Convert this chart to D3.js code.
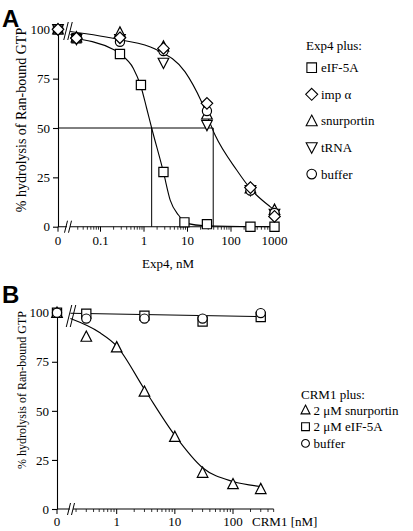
<!DOCTYPE html>
<html><head><meta charset="utf-8">
<script src="https://cdn.jsdelivr.net/npm/d3@7"></script>
<style>
body{margin:0;background:#fff}
svg{display:block}
text{font-family:"Liberation Serif","Times New Roman",serif;fill:#000}
</style>
</head><body>
<svg id="chart" width="413" height="531"></svg>
<script>
// ---------------- DATA ----------------
// Panel A : Exp4 titration (nM)
const yTickValues = [0, 25, 50, 75, 100];
const xTickValuesA = [0, 0.1, 1, 10, 100, 1000];
const xTickLabelsA = ["0", "0.1", "1", "10", "100", "1000"];
const concA_eif = [0, 0.028, 0.28, 0.85, 2.8, 8.5, 28, 280, 1000];
const eif5aA    = [100, 95.5, 87.5, 71.8, 27.7, 2.2, 1.3, 0, 0];
const concA     = [0, 0.028, 0.28, 2.8, 28, 280, 1000];
const trnaA     = [100, 95, 95, 83, 51.5, 18.5, 6.5];
const snurpA    = [100, 96, 98.4, 91.3, 56.9, 19.5, 8.6];
const bufferA   = [100, 95.5, 93.7, 89, 58.6, 18.3, 7];
const impA      = [100, 95.5, 95.7, 90.3, 62.5, 19.8, 5.2];
const fitUpperXA = [0.02, 0.3, 1.8, 8.8, 21, 43, 135, 273, 790, 1000];
const fitUpperYA = [98.9, 94.6, 90, 78.4, 63.3, 46.4, 28.7, 19.5, 10.2, 8.5];
const fitLowerXA = [0.02, 0.21, 0.28, 0.57, 0.84, 1.15, 1.5, 2.8, 4, 6.2, 9.6, 26, 1000];
const fitLowerYA = [95.7, 89.5, 87.5, 80.2, 71.4, 60, 50, 27.6, 13.5, 5.9, 1.7, 0.5, 0];
const ic50A = [1.5, 39];
const legendA = ["eIF-5A", "imp \u03b1", "snurportin", "tRNA", "buffer"];

// Panel B : CRM1 titration (nM)
const xTickValuesB = [0, 1, 10, 100];
const xTickLabelsB = ["0", "1", "10", "100"];
const concB_snurp = [0, 0.3, 1, 3, 10, 30, 100, 300];
const snurpB      = [100, 87.8, 82.4, 59.8, 36.8, 18.5, 12.7, 10.2];
const concB       = [0, 0.3, 3, 30, 300];
const eifB        = [100, 99.5, 98.5, 95.5, 97.8];
const bufferB     = [100, 97, 97, 97, 99.8];
const fitSnurpXB = [0.16, 0.5, 1, 3, 10, 30, 100, 300];
const fitSnurpYB = [97, 90, 83, 61, 37.5, 21, 14, 11.5];
const fitFlatXB  = [0.16, 300];
const fitFlatYB  = [99.7, 98];
const legendB = ["2 \u03bcM snurportin", "2 \u03bcM eIF-5A", "buffer"];

// ---------------- DRAWING ----------------
const svg = d3.select("#chart");

const shapes = {
  square: r => `M${-r},${-r}H${r}V${r}H${-r}Z`,
  diamond: r => { const d = r * 1.25; return `M0,${-d}L${d},0L0,${d}L${-d},0Z`; },
  up: r => { const w = r * 1.15, h = r * 1.0; return `M0,${-h - 1}L${w},${h}L${-w},${h}Z`; },
  down: r => { const w = r * 1.15, h = r * 1.0; return `M0,${h + 1}L${w},${-h}L${-w},${-h}Z`; },
  circle: r => `M${r},0A${r},${r},0,1,1,${-r},0A${r},${r},0,1,1,${r},0Z`
};

function drawPanel(cfg) {
  const g = svg.append("g");
  const y = d3.scaleLinear().domain([0, 100]).range([cfg.y0, cfg.y100]);
  const xl = d3.scaleLog().domain(cfg.logDomain).range(cfg.logRange);
  const xp = v => v === 0 ? cfg.axisX : xl(v);

  // y axis
  const ya = d3.axisLeft(y).tickValues(yTickValues).tickSize(5).tickSizeOuter(0).tickPadding(3);
  const yg = g.append("g").attr("transform", `translate(${cfg.axisX},0)`).call(ya);
  yg.selectAll("text").style("font-size", "13px").style("font-family", '"Liberation Serif",serif');
  yg.selectAll("path,line").attr("stroke", "#000").attr("stroke-width", 1.1);

  // x axis: line from zero to end
  g.append("line").attr("x1", cfg.axisX).attr("x2", xl(cfg.axisEnd))
    .attr("y1", cfg.y0).attr("y2", cfg.y0).attr("stroke", "#000").attr("stroke-width", 1.1);
  // major ticks
  g.selectAll(".maj").data(cfg.majorTicks).join("line")
    .attr("x1", d => xp(d)).attr("x2", d => xp(d))
    .attr("y1", cfg.y0).attr("y2", cfg.y0 + 5).attr("stroke", "#000").attr("stroke-width", 1);
  // minor ticks
  const minors = [];
  for (let e = Math.floor(Math.log10(cfg.minorStart)); e <= Math.ceil(Math.log10(cfg.axisEnd)); e++) {
    for (let m = 1; m <= 9; m++) {
      const v = m * Math.pow(10, e);
      if (v >= cfg.minorStart * 0.999 && v <= cfg.axisEnd * 1.001 && m !== 1) minors.push(v);
    }
  }
  g.selectAll(".min").data(minors).join("line")
    .attr("x1", d => xl(d)).attr("x2", d => xl(d))
    .attr("y1", cfg.y0).attr("y2", cfg.y0 + 3).attr("stroke", "#000").attr("stroke-width", 0.8);
  // tick labels
  g.selectAll(".tl").data(cfg.majorTicks).join("text")
    .attr("x", d => xp(d)).attr("y", cfg.y0 + cfg.labelDy)
    .attr("text-anchor", "middle").style("font-size", "13px")
    .text((d, i) => cfg.majorLabels[i]);

  // break marks (axis and data)
  const bx = cfg.axisX + cfg.breakOff;
  g.append("rect").attr("x", bx - 1).attr("y", cfg.y0 - 2).attr("width", 3).attr("height", 4).attr("fill", "#fff");
  [[cfg.y0 + 6, cfg.y0 - 6], cfg.topBreak].forEach(([yb, yt]) => {
    [-2, 2].forEach(o => {
      const dx = (yb - yt) * 0.25;
      g.append("line").attr("x1", bx + o - dx / 2).attr("x2", bx + o + dx / 2)
        .attr("y1", yb).attr("y2", yt).attr("stroke", "#000").attr("stroke-width", 1);
    });
  });

  // reference (IC50) lines
  if (cfg.ic50) {
    g.append("line").attr("x1", cfg.axisX).attr("x2", xl(d3.max(cfg.ic50)))
      .attr("y1", y(50)).attr("y2", y(50)).attr("stroke", "#000").attr("stroke-width", 1);
    g.selectAll(".ic").data(cfg.ic50).join("line")
      .attr("x1", d => xl(d)).attr("x2", d => xl(d))
      .attr("y1", y(50)).attr("y2", cfg.y0).attr("stroke", "#000").attr("stroke-width", 1);
  }

  // fitted curves
  const line = d3.line().x(d => xl(d[0])).y(d => y(d[1])).curve(d3.curveMonotoneX);
  cfg.curves.forEach(c => {
    g.append("path").datum(d3.zip(c[0], c[1])).attr("d", line)
      .attr("fill", "none").attr("stroke", "#000").attr("stroke-width", 1.1);
  });

  // points
  cfg.series.forEach(s => {
    g.selectAll(null).data(d3.zip(s.x, s.y)).join("path")
      .attr("transform", d => `translate(${xp(d[0])},${y(d[1])})`)
      .attr("d", shapes[s.shape](4.6))
      .attr("fill", "#fff").attr("stroke", "#000").attr("stroke-width", 1.2);
  });

  // axis title
  g.append("text").attr("transform", `translate(${cfg.yTitleX},${cfg.yTitleY}) rotate(-90)`)
    .attr("text-anchor", "middle").style("font-size", cfg.yTitleSize + "px")
    .text("% hydrolysis of Ran-bound GTP");

  // panel letter
  g.append("text").attr("x", 2).attr("y", cfg.letterY)
    .style("font-family", '"Liberation Sans",Arial,sans-serif').style("font-weight", "bold")
    .style("font-size", "24px").text(cfg.letter);

  // legend
  const lg = g.append("g");
  lg.append("text").attr("x", cfg.legX).attr("y", cfg.legY).style("font-size", "13px").text(cfg.legTitle);
  cfg.legItems.forEach((it, i) => {
    const cy = cfg.legY + cfg.legFirst + i * cfg.legStep;
    lg.append("path").attr("transform", `translate(${cfg.legSymX},${cy})`)
      .attr("d", shapes[it.shape](cfg.legSymR)).attr("fill", "#fff").attr("stroke", "#000").attr("stroke-width", 1.1);
    lg.append("text").attr("x", cfg.legTextX).attr("y", cy + 4.5).style("font-size", "13px").text(it.label);
  });
  return {g, xl, y};
}

// Panel A
const A = drawPanel({
  letter: "A", letterY: 27,
  axisX: 58, y0: 226.7, y100: 29.3,
  logDomain: [0.1, 1000], logRange: [100.5, 274.5],
  axisEnd: 1000, minorStart: 0.03,
  majorTicks: xTickValuesA, majorLabels: xTickLabelsA, labelDy: 18,
  breakOff: 10, topBreak: [40, 22],
  ic50: ic50A,
  curves: [[fitUpperXA, fitUpperYA], [fitLowerXA, fitLowerYA]],
  series: [
    {x: concA_eif, y: eif5aA, shape: "square"},
    {x: concA, y: trnaA, shape: "down"},
    {x: concA, y: snurpA, shape: "up"},
    {x: concA, y: bufferA, shape: "circle"},
    {x: concA, y: impA, shape: "diamond"}
  ],
  yTitleX: 26, yTitleY: 120, yTitleSize: 14,
  legX: 306, legY: 50, legFirst: 17.7, legStep: 26.6, legSymX: 311.7, legSymR: 4.8, legTextX: 321,
  legTitle: "Exp4 plus:",
  legItems: [
    {shape: "square", label: legendA[0]},
    {shape: "diamond", label: legendA[1]},
    {shape: "up", label: legendA[2]},
    {shape: "down", label: legendA[3]},
    {shape: "circle", label: legendA[4]}
  ]
});
A.g.append("text").attr("x", 168).attr("y", 268).attr("text-anchor", "middle")
  .style("font-size", "13px").text("Exp4, nM");

// Panel B
const B = drawPanel({
  letter: "B", letterY: 303,
  axisX: 57, y0: 509, y100: 312.7,
  logDomain: [1, 100], logRange: [116.7, 233],
  axisEnd: 500, minorStart: 0.2,
  majorTicks: xTickValuesB, majorLabels: xTickLabelsB, labelDy: 17,
  breakOff: 14, topBreak: [327, 305],
  ic50: null,
  curves: [[fitSnurpXB, fitSnurpYB], [fitFlatXB, fitFlatYB]],
  series: [
    {x: concB_snurp, y: snurpB, shape: "up"},
    {x: concB, y: eifB, shape: "square"},
    {x: concB, y: bufferB, shape: "circle"}
  ],
  yTitleX: 26, yTitleY: 390, yTitleSize: 12,
  legX: 301, legY: 399, legFirst: 11, legStep: 16.7, legSymX: 305.5, legSymR: 3.9, legTextX: 313.5,
  legTitle: "CRM1 plus:",
  legItems: [
    {shape: "up", label: legendB[0]},
    {shape: "square", label: legendB[1]},
    {shape: "circle", label: legendB[2]}
  ]
});
B.g.append("text").attr("x", 252).attr("y", 526).style("font-size", "13px").text("CRM1 [nM]");
</script>
</body></html>
